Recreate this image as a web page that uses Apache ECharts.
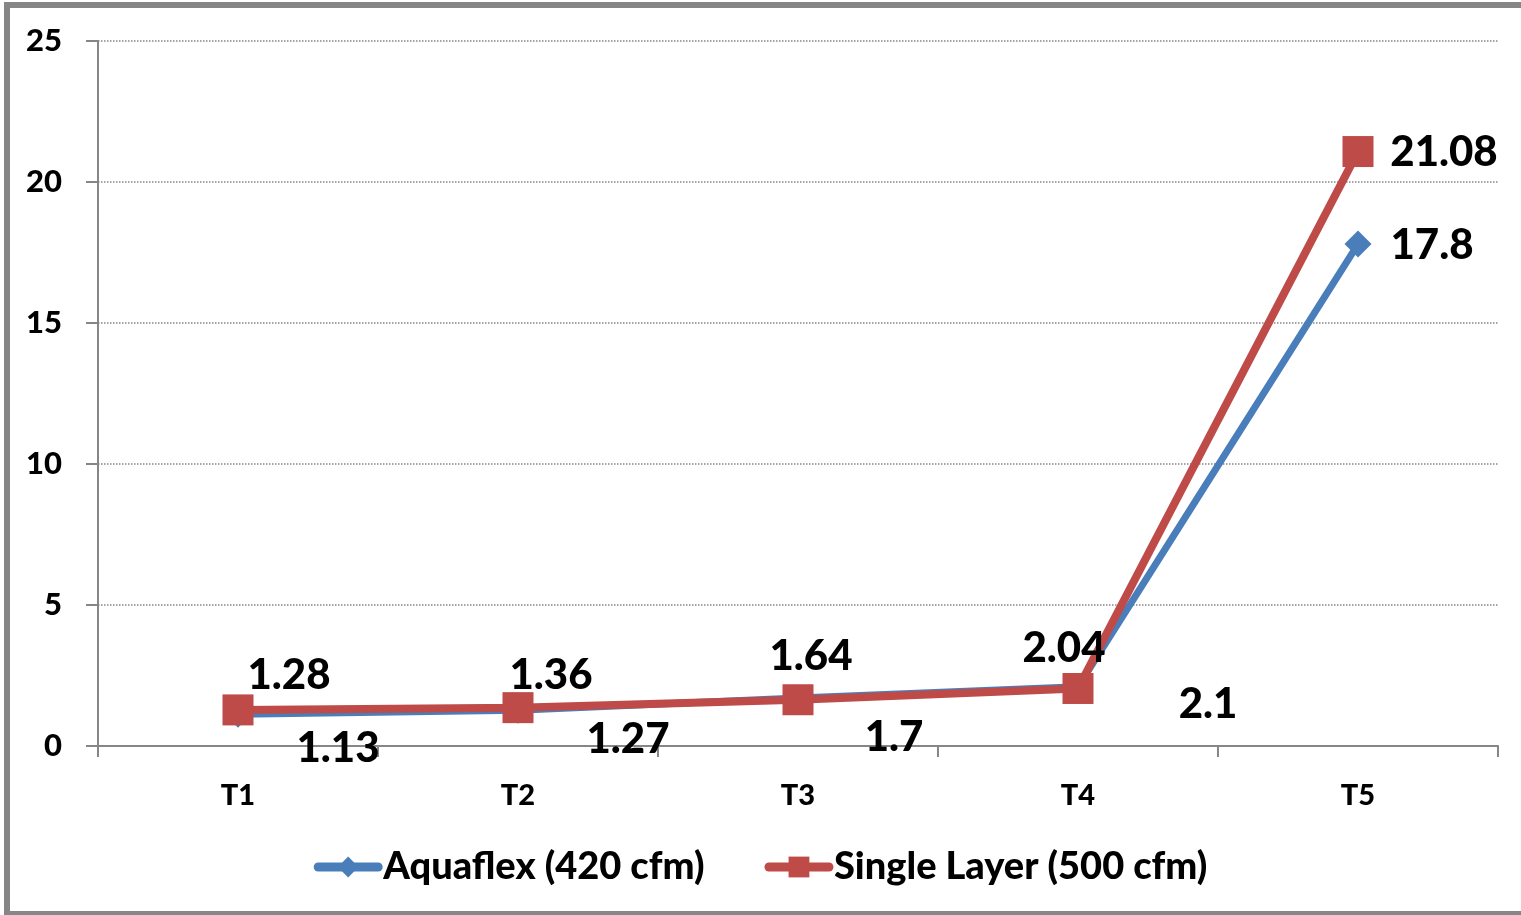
<!DOCTYPE html>
<html>
<head>
<meta charset="utf-8">
<script src="https://cdn.jsdelivr.net/npm/echarts@6/dist/echarts.min.js"></script>
<style>
html, body { margin: 0; padding: 0; background: #fff; }
#main { width: 1521px; height: 915px; }
</style>
</head>
<body>
<div id="main"></div>
<script>
// categories and series
var categories = ['T1', 'T2', 'T3', 'T4', 'T5'];
var aquaflex = [1.13, 1.27, 1.7, 2.1, 17.8];
var singleLayer = [1.28, 1.36, 1.64, 2.04, 21.08];
var seriesNames = ['Aquaflex (420 cfm)', 'Single Layer (500 cfm)'];

// label offsets (the labels were dragged around in the original)
var blueLabelShift = [[100, 34], [110, 29], [96, 39], [130, 18], [74, 1]];
var redLabelShift = [[51, -34], [33, -32], [13, -43], [-14, -40], [86, 1]];

var font = 'Lato, "Open Sans", sans-serif';

function buildData(values, shifts) {
    var d = [];
    for (var i = 0; i < values.length; i++) {
        d.push({
            value: values[i],
            label: { offset: shifts[i] }
        });
    }
    return d;
}

var myChart = echarts.init(document.getElementById('main'));
var labelStyle = {
    show: true,
    position: 'inside',
    align: 'center',
    verticalAlign: 'middle',
    color: '#000',
    fontFamily: font,
    fontWeight: 900,
    fontSize: 42
};

var option = {
    animation: false,
    backgroundColor: '#fff',
    graphic: [{
        type: 'rect',
        shape: { x: 7, y: 5, width: 1530, height: 909 },
        style: { fill: 'none', stroke: '#868686', lineWidth: 6 },
        z: 100
    }],
    grid: { left: 98, right: 23, top: 41, bottom: 169 },
    legend: {
        bottom: 24,
        left: 'center',
        itemWidth: 60,
        itemHeight: 26,
        itemGap: 60,
        lineStyle: { width: 9, cap: 'round' },
        textStyle: { color: '#000', fontFamily: font, fontWeight: 900, fontSize: 38 },
        data: seriesNames
    },
    xAxis: {
        type: 'category',
        data: categories,
        boundaryGap: true,
        axisLine: { lineStyle: { color: '#868686', width: 2 } },
        axisTick: { show: true, length: 11, lineStyle: { color: '#868686', width: 2 } },
        axisLabel: { color: '#000', fontFamily: font, fontWeight: 900, fontSize: 29, margin: 35 }
    },
    yAxis: {
        type: 'value',
        min: 0,
        max: 25,
        interval: 5,
        axisLine: { show: true, lineStyle: { color: '#868686', width: 2 } },
        axisTick: { show: true, length: 12, lineStyle: { color: '#868686', width: 2 } },
        axisLabel: { color: '#000', fontFamily: font, fontWeight: 900, fontSize: 31, margin: 36 },
        splitLine: { show: true, lineStyle: { color: '#868686', type: 'dotted', width: 1.5 } }
    },
    series: [
        {
            name: seriesNames[0],
            type: 'line',
            data: buildData(aquaflex, blueLabelShift),
            symbol: 'diamond',
            symbolSize: 27,
            itemStyle: { color: '#4a7ebb' },
            lineStyle: { color: '#4a7ebb', width: 7 },
            label: labelStyle,
            z: 2
        },
        {
            name: seriesNames[1],
            type: 'line',
            data: buildData(singleLayer, redLabelShift),
            symbol: 'rect',
            symbolSize: 31,
            itemStyle: { color: '#be4b48' },
            lineStyle: { color: '#be4b48', width: 8 },
            label: labelStyle,
            z: 3
        }
    ]
};

myChart.setOption(option);
</script>
</body>
</html>
